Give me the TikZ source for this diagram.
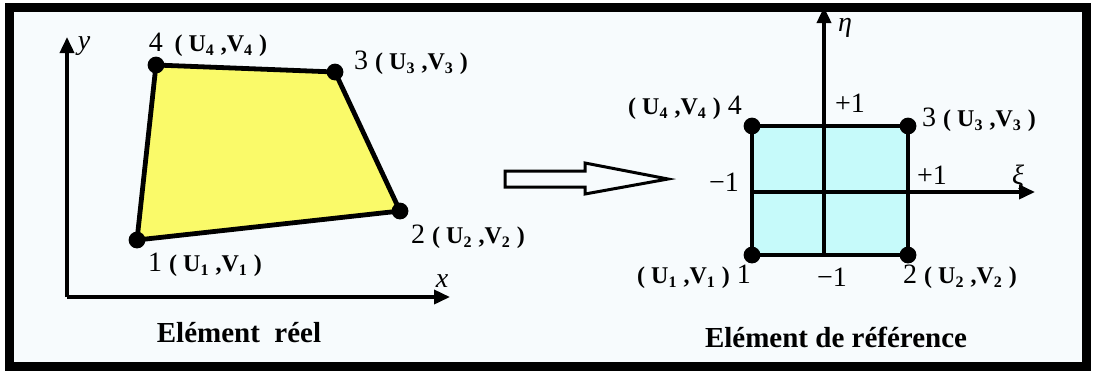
\documentclass[tikz,border=0pt]{standalone}
\usepackage{fontspec}
\setmainfont{Liberation Serif}
\usetikzlibrary{arrows.meta}
\definecolor{fondo}{RGB}{247,251,253}
\definecolor{giallo}{RGB}{250,250,105}
\definecolor{ciano}{RGB}{198,250,250}
\newcommand{\UV}[1]{{\bfseries\fontsize{12}{14}\selectfont( U\textsubscript{#1} ,V\textsubscript{#1} )}}

\begin{document}
\begin{tikzpicture}[x=0.5pt,y=-0.5pt,
    lato/.style={line width=2.4pt,line join=round},
    asse/.style={line width=1.8pt,-{Triangle[length=8pt,width=7pt]}},
    lbl/.style={font=\fontsize{14}{16}\selectfont,inner sep=0pt},
    titolo/.style={font=\bfseries\fontsize{14.5}{16}\selectfont,inner sep=0pt}]
    \useasboundingbox (0,0) rectangle (1096,371);

    % cornice
    \fill[white] (0,0) rectangle (1096,371);
    \draw[line width=4.5pt,fill=fondo] (9.5,7) rectangle (1086.5,366);

    % elemento reale: assi
    \coordinate (O) at (67,297);
    \coordinate (Y) at (67,37);
    \coordinate (X) at (450,297);
    \draw[asse] (O) -- (Y);
    \draw[asse] (O) -- (X);
    \node[lbl] (ly) at (84,46) {\textit{y}};
    \node[lbl] (lx) at (442,281) {\textit{x}};

    % quadrilatero
    \coordinate (p1) at (137,240);
    \coordinate (p2) at (400,211);
    \coordinate (p3) at (335,72);
    \coordinate (p4) at (156,65);
    \filldraw[lato,fill=giallo] (p1) -- (p2) -- (p3) -- (p4) -- cycle;
    \foreach \p in {p1,p2,p3,p4} \fill (\p) circle (4.2pt);

    \node[lbl] (e1) at (205,265) {1 \UV{1}};
    \node[lbl] (e2) at (468,237) {2 \UV{2}};
    \node[lbl] (e3) at (411,63) {3 \UV{3}};
    \node[lbl] (e4) at (208,45) {4\, \UV{4}};
    \node[titolo] (t1) at (239,333) {Elément\ \ réel};

    % freccia
    \draw[line width=1.5pt,fill=fondo,line join=miter]
        (505,171) -- (585,171) -- (585,163) -- (668,179)
        -- (585,194) -- (585,187) -- (505,187) -- cycle;

    % elemento di riferimento
    \coordinate (q1) at (752,255);
    \coordinate (q2) at (908,255);
    \coordinate (q3) at (908,126);
    \coordinate (q4) at (752,126);
    \filldraw[lato,fill=ciano] (q1) -- (q2) -- (q3) -- (q4) -- cycle;

    % assi xi, eta
    \coordinate (E0) at (824,255);
    \coordinate (E1) at (824,7);
    \coordinate (X0) at (752,192);
    \coordinate (X1) at (1035,192);
    \draw[asse] (E0) -- (E1);
    \draw[asse] (X0) -- (X1);
    \foreach \p in {q1,q2,q3,q4} \fill (\p) circle (4.2pt);

    \node[lbl] (leta) at (845,28) {\textit{η}};
    \node[lbl] (lxi) at (1018,177) {\textit{ξ}};
    \node[lbl] (pt) at (850,103) {+1};
    \node[lbl] (pr) at (932,175) {+1};
    \node[lbl] (ml) at (724,182) {−1};
    \node[lbl] (mb) at (832,277) {−1};

    \node[lbl] (r1) at (694,277) {\UV{1} 1};
    \node[lbl] (r2) at (960,277) {2 \UV{2}};
    \node[lbl] (r3) at (979,120) {3 \UV{3}};
    \node[lbl] (r4) at (685,108) {\UV{4} 4};
    \node[titolo] (t2) at (836,337) {Elément de référence};
\end{tikzpicture}
\end{document}
